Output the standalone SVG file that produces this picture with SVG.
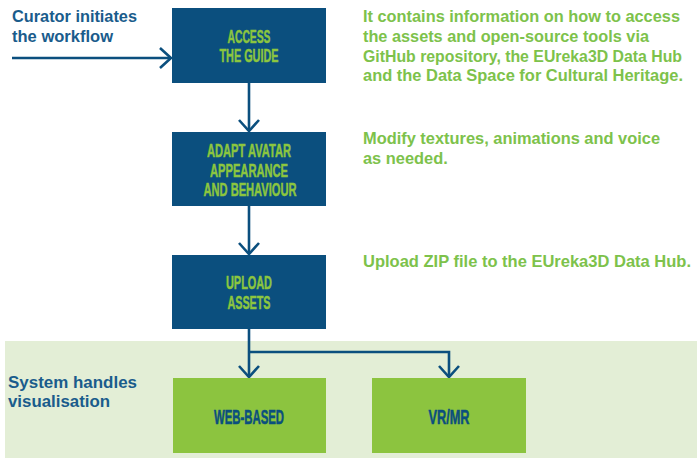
<svg xmlns="http://www.w3.org/2000/svg" width="697" height="458" viewBox="0 0 697 458">
<style>
  .bluebox { fill: #0b4f7e; }
  .greenbox { fill: #8cc43f; }
  .boxtxt { font-family: "Liberation Sans", Arial, sans-serif; font-weight: bold; font-size: 18.5px; fill: #8cc63f; stroke: #8cc63f; stroke-width: 0.5; text-anchor: middle; }
  .gtxt { font-family: "Liberation Sans", Arial, sans-serif; font-weight: bold; font-size: 20px; fill: #0b4f7e; stroke: #0b4f7e; stroke-width: 0.5; text-anchor: middle; }
  .side { font-family: "Liberation Sans", Arial, sans-serif; font-weight: bold; font-size: 16.5px; fill: #1a5c8c; }
  .note { font-family: "Liberation Sans", Arial, sans-serif; font-weight: bold; font-size: 16.4px; fill: #7dc24b; }
  .conn { fill: none; stroke: #0b4f7e; stroke-width: 2.6; }
</style>
<defs>
  <marker id="chev" viewBox="-14 -12 16 24" markerWidth="16" markerHeight="24" refX="0" refY="0" orient="auto" markerUnits="userSpaceOnUse">
    <path d="M-11,-10 L0,0 L-11,10" fill="none" stroke="#0b4f7e" stroke-width="2.6"/>
  </marker>
</defs>
<rect x="0" y="0" width="697" height="458" fill="#ffffff"/>
<rect id="band" x="5" y="341" width="692" height="117" fill="#e3eed6"/>

<g id="connectors">
  <path class="conn" d="M12,58 L171,58" marker-end="url(#chev)"/>
  <path class="conn" d="M249,83 L249,131" marker-end="url(#chev)"/>
  <path class="conn" d="M249,206 L249,254" marker-end="url(#chev)"/>
  <path class="conn" d="M249,329 L249,377" marker-end="url(#chev)"/>
  <path class="conn" d="M249,352 L449,352 L449,377" marker-end="url(#chev)"/>
</g>

<g id="curator">
  <text class="side" x="12" y="22" textLength="125" lengthAdjust="spacingAndGlyphs">Curator initiates</text>
  <text class="side" x="12" y="42" textLength="101" lengthAdjust="spacingAndGlyphs">the workflow</text>
</g>

<g id="access">
  <rect class="bluebox" x="172" y="8" width="154" height="75"/>
  <text class="boxtxt" x="249" y="43" textLength="43" lengthAdjust="spacingAndGlyphs">ACCESS</text>
  <text class="boxtxt" x="249" y="62" textLength="59" lengthAdjust="spacingAndGlyphs">THE GUIDE</text>
</g>

<g id="adapt">
  <rect class="bluebox" x="172" y="132" width="154" height="74"/>
  <text class="boxtxt" x="249" y="157" textLength="84" lengthAdjust="spacingAndGlyphs">ADAPT AVATAR</text>
  <text class="boxtxt" x="249" y="177" textLength="78" lengthAdjust="spacingAndGlyphs">APPEARANCE</text>
  <text class="boxtxt" x="250" y="196" textLength="93" lengthAdjust="spacingAndGlyphs">AND BEHAVIOUR</text>
</g>

<g id="upload">
  <rect class="bluebox" x="172" y="255" width="154" height="74"/>
  <text class="boxtxt" x="249" y="289" textLength="46" lengthAdjust="spacingAndGlyphs">UPLOAD</text>
  <text class="boxtxt" x="249" y="309" textLength="43" lengthAdjust="spacingAndGlyphs">ASSETS</text>
</g>

<g id="note-access">
  <text class="note" x="363" y="22" textLength="317" lengthAdjust="spacingAndGlyphs">It contains information on how to access</text>
  <text class="note" x="363" y="42" textLength="286" lengthAdjust="spacingAndGlyphs">the assets and open-source tools via</text>
  <text class="note" x="363" y="62" textLength="319" lengthAdjust="spacingAndGlyphs">GitHub repository, the EUreka3D Data Hub</text>
  <text class="note" x="363" y="81" textLength="320" lengthAdjust="spacingAndGlyphs">and the Data Space for Cultural Heritage.</text>
</g>

<g id="note-adapt">
  <text class="note" x="363" y="144" textLength="297" lengthAdjust="spacingAndGlyphs">Modify textures, animations and voice</text>
  <text class="note" x="363" y="164">as needed.</text>
</g>

<g id="note-upload">
  <text class="note" x="363" y="267" textLength="328" lengthAdjust="spacingAndGlyphs">Upload ZIP file to the EUreka3D Data Hub.</text>
</g>

<g id="system">
  <text class="side" x="8" y="388" textLength="129" lengthAdjust="spacingAndGlyphs">System handles</text>
  <text class="side" x="8" y="407" textLength="102" lengthAdjust="spacingAndGlyphs">visualisation</text>
</g>

<g id="web">
  <rect class="greenbox" x="173" y="378" width="153" height="75"/>
  <text class="gtxt" x="249" y="424" textLength="70" lengthAdjust="spacingAndGlyphs">WEB-BASED</text>
</g>

<g id="vrmr">
  <rect class="greenbox" x="372" y="378" width="154" height="75"/>
  <text class="gtxt" x="449" y="424" textLength="41" lengthAdjust="spacingAndGlyphs">VR/MR</text>
</g>
</svg>
